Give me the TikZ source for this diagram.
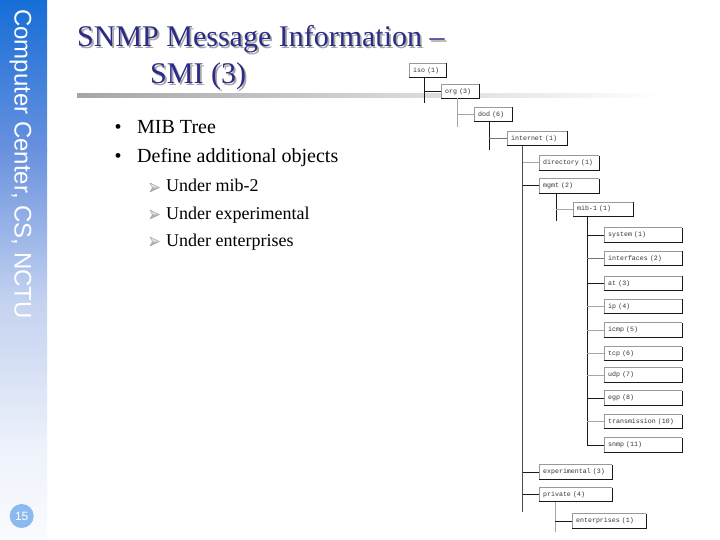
\documentclass[tikz,border=0pt]{standalone}
\usepackage{fontspec}
\setmainfont{Liberation Serif}
\newfontfamily\sbfont{Liberation Sans}
\newfontfamily\mibfont{Liberation Mono}
\definecolor{titleblue}{RGB}{44,44,136}
\definecolor{sbA}{RGB}{22,110,215}
\definecolor{sbB}{RGB}{105,145,222}
\definecolor{sbC}{RGB}{195,210,240}
\definecolor{sbD}{RGB}{238,242,251}
\definecolor{sbE}{RGB}{250,251,254}
\definecolor{pagecirc}{RGB}{140,185,240}
\begin{document}
\begin{tikzpicture}[x=1pt,y=-1pt,
  mbox/.style={fill=white, anchor=west, minimum height=14pt, inner xsep=4pt, inner ysep=0pt,
    text height=4.8pt, text depth=1.3pt, align=left, text=black!80,
    font=\mibfont\fontsize{6.6}{7}\selectfont},
  lk/.style={line width=1pt, black!90},
  lg/.style={line width=1pt, black!35},
  lm/.style={line width=1.4pt, black!55},
  boxlight/.style={line width=0.9pt, black!40},
  boxdark/.style={line width=0.9pt, black!90},
  titletext/.style={anchor=base west, inner sep=0pt, font=\fontsize{30}{36}\selectfont},
  bultext/.style={anchor=base west, inner sep=0pt, font=\fontsize{20}{24}\selectfont},
  subtext/.style={anchor=base west, inner sep=0pt, font=\fontsize{18}{22}\selectfont},
  arrowbul/.style={draw=gray!75, line width=0.4pt, line join=round}
]
\useasboundingbox (0,0) rectangle (720,540);
\fill[white] (0,0) rectangle (720,540);

% sidebar
\shade[top color=sbA, bottom color=sbB] (0,0) rectangle (47,150.5);
\shade[top color=sbB, bottom color=sbC] (0,150) rectangle (47,300.5);
\shade[top color=sbC, bottom color=sbD] (0,300) rectangle (47,450.5);
\shade[top color=sbD, bottom color=sbE] (0,450) rectangle (47,540);
\node[rotate=-90, text=white, inner sep=0pt, font=\sbfont\fontsize{24}{28}\selectfont] (side) at (20.5,164) {Computer Center, CS, NCTU};
\node[circle, fill=pagecirc, minimum size=24pt, inner sep=0pt, text=white, font=\sbfont\fontsize{12}{14}\selectfont] (page) at (21.7,516) {15};

% title rule
\shade[left color=black!35, right color=white] (77,94) rectangle (660,98);

% title with shadow
\node[titletext, text=black!35] (t1s) at (78.8,48.8) {SNMP Message Information –};
\node[titletext, text=titleblue] (t1) at (77,47) {SNMP Message Information –};
\node[titletext, text=black!35] (t2s) at (151.8,85.8) {SMI (3)};
\node[titletext, text=titleblue] (t2) at (150,84) {SMI (3)};

% bullets
\node[bultext] (b1d) at (114.5,134) {•};
\node[bultext] (b1) at (137,134) {MIB Tree};
\node[bultext] (b2d) at (114.5,163) {•};
\node[bultext] (b2) at (137,163) {Define additional objects};
\foreach \yb/\nm/\tx in {192/s1/Under mib-2, 219/s2/Under experimental, 246/s3/Under enterprises}{
  \fill[gray!25] (150,\yb-9) -- (159.5,\yb-4.5) -- (152.5,\yb-4.5) -- cycle;
  \fill[gray!60] (152.5,\yb-4.5) -- (159.5,\yb-4.5) -- (150,\yb) -- cycle;
  \draw[arrowbul] (150,\yb-9) -- (159.5,\yb-4.5) -- (150,\yb) -- (152.5,\yb-4.5) -- cycle;
  \node[subtext] (\nm) at (166,\yb) {\tx};
}

% tree boxes
\node[mbox, text width=29pt] (iso) at (409,70.5) {iso (1)};
\node[mbox, text width=30pt] (org) at (441,91.3) {org (3)};
\node[mbox, text width=30pt] (dod) at (474,114.7) {dod (6)};
\node[mbox, text width=52pt] (internet) at (507,138.7) {internet (1)};
\node[mbox, text width=52pt] (directory) at (539,163) {directory (1)};
\node[mbox, text width=52pt] (mgmt) at (539,185.8) {mgmt (2)};
\node[mbox, text width=52pt] (mib) at (573,209.2) {mib-1 (1)};
\node[mbox, text width=70pt] (system) at (604,235) {system (1)};
\node[mbox, text width=70pt] (interfaces) at (604,258.3) {interfaces (2)};
\node[mbox, text width=70pt] (at) at (604,283.3) {at (3)};
\node[mbox, text width=70pt] (ip) at (604,306.3) {ip (4)};
\node[mbox, text width=70pt] (icmp) at (604,330) {icmp (5)};
\node[mbox, text width=70pt] (tcp) at (604,353.7) {tcp (6)};
\node[mbox, text width=70pt] (udp) at (604,375) {udp (7)};
\node[mbox, text width=70pt] (egp) at (604,398) {egp (8)};
\node[mbox, text width=70pt] (transmission) at (604,421.7) {transmission (10)};
\node[mbox, text width=70pt] (snmp) at (604,445) {snmp (11)};
\node[mbox, text width=65pt] (experimental) at (539,472) {experimental (3)};
\node[mbox, text width=65pt] (private) at (539,494.7) {private (4)};
\node[mbox, text width=66pt] (enterprises) at (572,521) {enterprises (1)};

\foreach \n in {iso,org,dod,internet,directory,mgmt,mib,system,interfaces,at,ip,icmp,tcp,udp,egp,transmission,snmp,experimental,private,enterprises}{
  \draw[boxlight] (\n.south west) -- (\n.north west) -- (\n.north east);
  \draw[boxdark] (\n.north east) -- (\n.south east) -- (\n.south west);
}

% vertical ends
\coordinate (isoV) at (424.3,103.3);
\coordinate (orgV) at (457.3,127);
\coordinate (dodV) at (489.3,150);
\coordinate (intV) at (522.5,511.7);
\coordinate (mgmtV) at (556,220.7);
\coordinate (mibV) at (587.3,445);
\coordinate (privV) at (555,531.7);

% connectors
\draw[lk] (iso.south -| isoV) -- (isoV);
\draw[lk] (isoV |- org.west) -- (org.west);
\draw[lg] (org.south -| orgV) -- (orgV);
\draw[lg] (orgV |- dod.west) -- (dod.west);
\draw[lk] (dod.south -| dodV) -- (dodV);
\draw[lm] (dodV |- internet.west) -- (internet.west);
\draw[black!70, line width=1pt] (internet.south -| intV) -- (intV);
\draw[lg] (intV |- directory.west) -- (directory.west);
\draw[lk] (intV |- mgmt.west) -- (mgmt.west);
\draw[lk] (intV |- experimental.west) -- (experimental.west);
\draw[lk] (intV |- private.west) -- (private.west);
\draw[lk] (mgmt.south -| mgmtV) -- (mgmtV);
\draw[lg] (mgmtV |- mib.west) -- (mib.west);
\draw[lk] (mib.south -| mibV) -- (mibV);
\draw[lk] (mibV |- system.west) -- (system.west);
\draw[lm] (mibV |- interfaces.west) -- (interfaces.west);
\draw[lk] (mibV |- at.west) -- (at.west);
\draw[lg] (mibV |- ip.west) -- (ip.west);
\draw[lg] (mibV |- icmp.west) -- (icmp.west);
\draw[lg] (mibV |- tcp.west) -- (tcp.west);
\draw[lg] (mibV |- udp.west) -- (udp.west);
\draw[lk] (mibV |- egp.west) -- (egp.west);
\draw[lg] (mibV |- transmission.west) -- (transmission.west);
\draw[lk] (mibV |- snmp.west) -- (snmp.west);
\draw[lg] (private.south -| privV) -- (privV);
\draw[lk] (privV |- enterprises.west) -- (enterprises.west);
\end{tikzpicture}
\end{document}
